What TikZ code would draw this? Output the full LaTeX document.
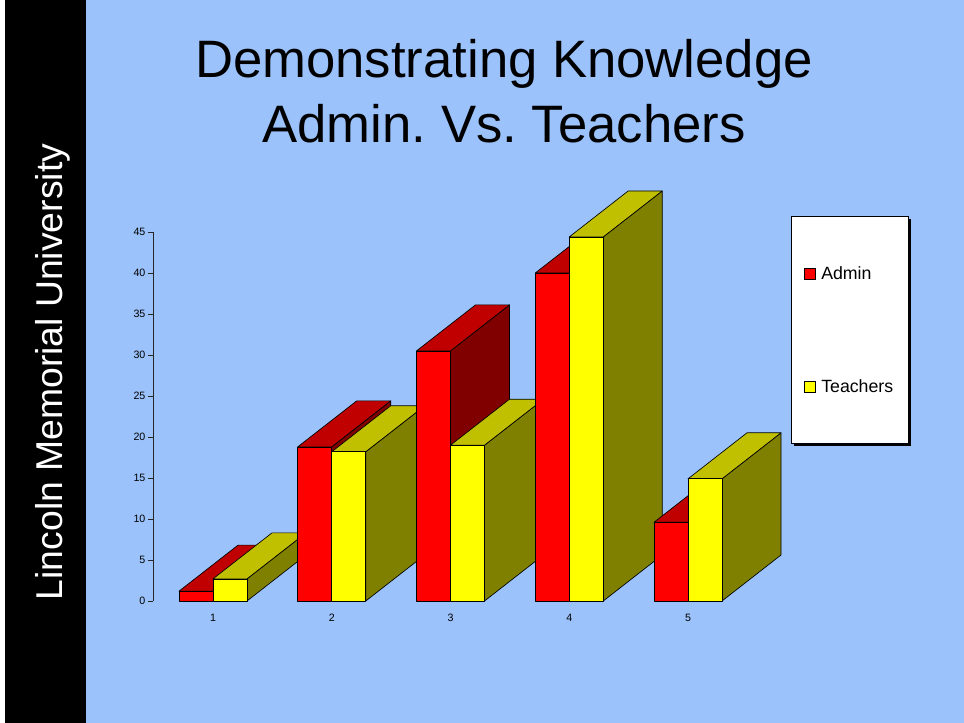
\documentclass[tikz,border=0pt]{standalone}
\usepackage{fontspec}
\setmainfont{Liberation Sans}
\frenchspacing
\definecolor{slideblue}{RGB}{155,194,250}
\definecolor{redfront}{RGB}{255,0,0}
\definecolor{redtop}{RGB}{192,0,0}
\definecolor{redside}{RGB}{128,0,0}
\definecolor{yelfront}{RGB}{255,255,0}
\definecolor{yeltop}{RGB}{192,192,0}
\definecolor{yelside}{RGB}{128,128,0}

\begin{document}
\begin{tikzpicture}[x=0.75pt,y=-0.75pt,
    face/.style={draw=black,line width=0.5pt,line join=round},
    ticklabel/.style={anchor=east,font=\fontsize{8}{9}\selectfont,inner sep=1pt},
    catlabel/.style={font=\fontsize{8}{9}\selectfont,inner sep=0pt},
    keytext/.style={anchor=base west,font=\fontsize{13.3}{15}\selectfont,inner sep=0pt},
    keybox/.style={draw=black,line width=0.5pt,minimum size=8.6pt,inner sep=0pt}]
        \useasboundingbox (0,0) rectangle (964,723);
        % slide background
        \fill[white] (0,0) rectangle (5,723);
        \fill[black] (5,0) rectangle (86,723);
        \fill[slideblue] (86,0) rectangle (964,723);
        \node[rotate=90,anchor=base,text=white,font=\fontsize{28}{30}\selectfont] (uni) at (62,372) {Lincoln Memorial University};
        \node[anchor=base,font=\fontsize{39.5}{42}\selectfont] (title1) at (504,78) {Demonstrating Knowledge};
        \node[anchor=base,font=\fontsize{39.5}{42}\selectfont] (title2) at (504,143) {Admin. Vs. Teachers};
        % value axis
        \draw[line width=0.6pt,black!85] (153,232) -- (153,601);
        \foreach \v in {0,5,...,45}{
            \draw[line width=0.6pt,black!85] (148,601-\v*8.2) -- (153,601-\v*8.2);
            \node[ticklabel] (t\v) at (147,601-\v*8.2) {\v};
        }
        % bars, admin then teachers
        \foreach \i/\a/\t in {1/1.2/2.7, 2/18.8/18.2, 3/30.5/19, 4/40/44.4, 5/9.6/14.9}{
            \pgfmathsetmacro{\L}{179+(\i-1)*118.75}
            \pgfmathsetmacro{\ya}{601-\a*8.2}
            \pgfmathsetmacro{\yt}{601-\t*8.2}
            \draw[face,fill=redside] (\L+34,601) -- (\L+34,\ya) -- (\L+93,\ya-46) -- (\L+93,555) -- cycle;
            \draw[face,fill=redtop] (\L,\ya) -- (\L+34,\ya) -- (\L+93,\ya-46) -- (\L+59,\ya-46) -- cycle;
            \draw[face,fill=redfront] (\L,601) rectangle (\L+34,\ya);
            \draw[face,fill=yelside] (\L+68,601) -- (\L+68,\yt) -- (\L+127,\yt-46) -- (\L+127,555) -- cycle;
            \draw[face,fill=yeltop] (\L+34,\yt) -- (\L+68,\yt) -- (\L+127,\yt-46) -- (\L+93,\yt-46) -- cycle;
            \draw[face,fill=yelfront] (\L+34,601) rectangle (\L+68,\yt);
            \node[catlabel] (c\i) at (\L+34,618) {\i};
        }
        % legend
        \fill[black] (794,219) rectangle (911,446);
        \draw[fill=white,line width=0.5pt] (791,216) rectangle (908,443);
        \node[keybox,fill=redfront] (kadmin) at (810,274) {};
        \node[keytext] (ladmin) at (821,280) {Admin};
        \node[keybox,fill=yelfront] (kteach) at (810,387) {};
        \node[keytext] (lteach) at (821,393) {Teachers};
    \end{tikzpicture}
\end{document}
